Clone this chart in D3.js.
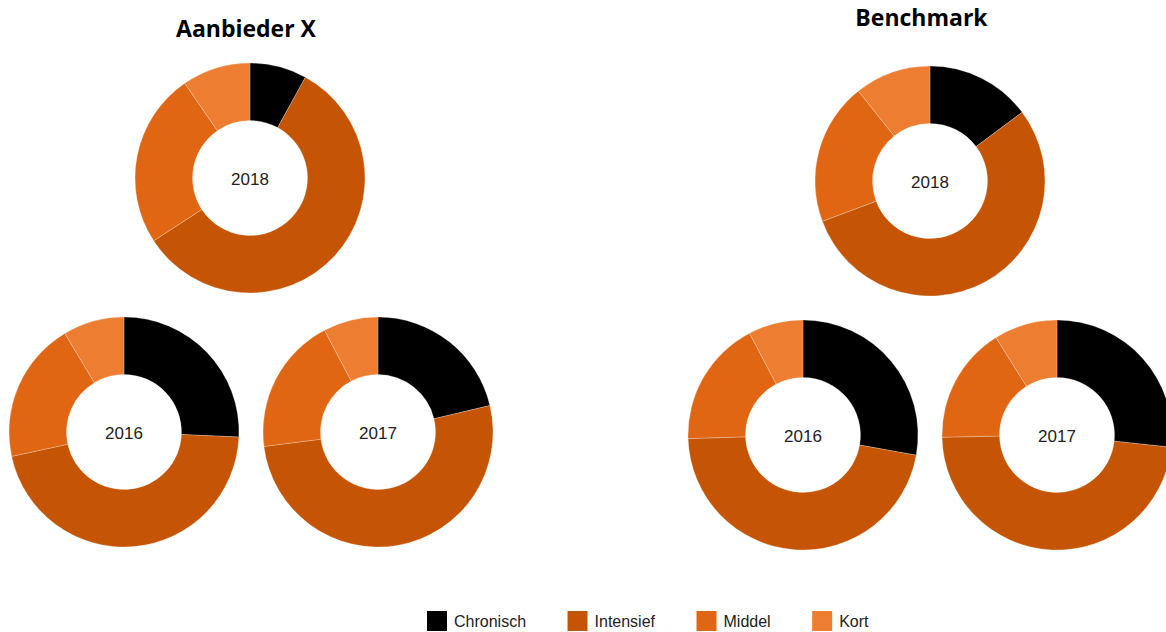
<!DOCTYPE html>
<html>
<head>
<meta charset="utf-8">
<script src="https://cdn.jsdelivr.net/npm/d3@7"></script>
<style>
  html, body { margin: 0; padding: 0; background: #fff; }
  svg { display: block; }
</style>
</head>
<body>
<svg id="chart" width="1166" height="632"></svg>
<script>
// ---- data ----
const categories = ["Chronisch", "Intensief", "Middel", "Kort"];
const colors = ["#000000", "#c55504", "#e06614", "#ed7d31"];
const panels = ["Aanbieder X", "Benchmark"];
const years = ["2018", "2016", "2017"];
// percentages per year, in category order
const aanbieder2018 = [8.0, 57.8, 24.6, 9.6];
const aanbieder2016 = [25.7, 45.9, 19.8, 8.6];
const aanbieder2017 = [21.3, 51.7, 19.3, 7.7];
const benchmark2018 = [14.8, 54.5, 20.0, 10.7];
const benchmark2016 = [27.8, 46.7, 17.8, 7.7];
const benchmark2017 = [26.7, 48.0, 16.4, 8.9];

const panelValues = [
  [aanbieder2018, aanbieder2016, aanbieder2017],
  [benchmark2018, benchmark2016, benchmark2017]
];

// ---- layout ----
const svg = d3.select("#chart");
const outerR = 115, innerR = 57.5;
const panelLayout = [
  { titleX: 246, titleY: 37, centers: [[250, 178], [124, 432], [378, 432]] },
  { titleX: 921.5, titleY: 26, centers: [[930, 181], [803, 435], [1057, 435]] }
];

const pie = d3.pie().sort(null).value(d => d);
const arc = d3.arc().innerRadius(innerR).outerRadius(outerR);
const color = d3.scaleOrdinal().domain(categories).range(colors);

panels.forEach((name, p) => {
  const L = panelLayout[p];
  svg.append("text")
    .attr("x", L.titleX).attr("y", L.titleY)
    .attr("text-anchor", "middle")
    .attr("font-family", "'Open Sans', sans-serif")
    .attr("font-weight", "bold")
    .attr("font-size", 23)
    .attr("fill", "#000")
    .text(name);

  years.forEach((yr, i) => {
    const [cx, cy] = L.centers[i];
    const g = svg.append("g").attr("transform", `translate(${cx},${cy})`);
    g.selectAll("path")
      .data(pie(panelValues[p][i]))
      .join("path")
      .attr("d", arc)
      .attr("fill", (d, k) => color(categories[k]))
      .attr("stroke", "#fff")
      .attr("stroke-width", 0.25);
    g.append("text")
      .attr("text-anchor", "middle")
      .attr("y", 7)
      .attr("font-family", "Arial, 'Liberation Sans', sans-serif")
      .attr("font-size", 17)
      .attr("fill", "#222")
      .text(yr);
  });
});

// ---- legend ----
const legend = svg.append("g").attr("transform", "translate(427,611)");
let lx = 0;
categories.forEach((c, k) => {
  const item = legend.append("g").attr("transform", `translate(${lx},0)`);
  item.append("rect").attr("width", 20).attr("height", 20).attr("fill", color(c));
  const t = item.append("text")
    .attr("x", 27).attr("y", 16)
    .attr("font-family", "Arial, 'Liberation Sans', sans-serif")
    .attr("font-size", 16)
    .attr("fill", "#222")
    .text(c);
  lx += 27 + t.node().getComputedTextLength() + 41.5;
});
</script>
</body>
</html>
